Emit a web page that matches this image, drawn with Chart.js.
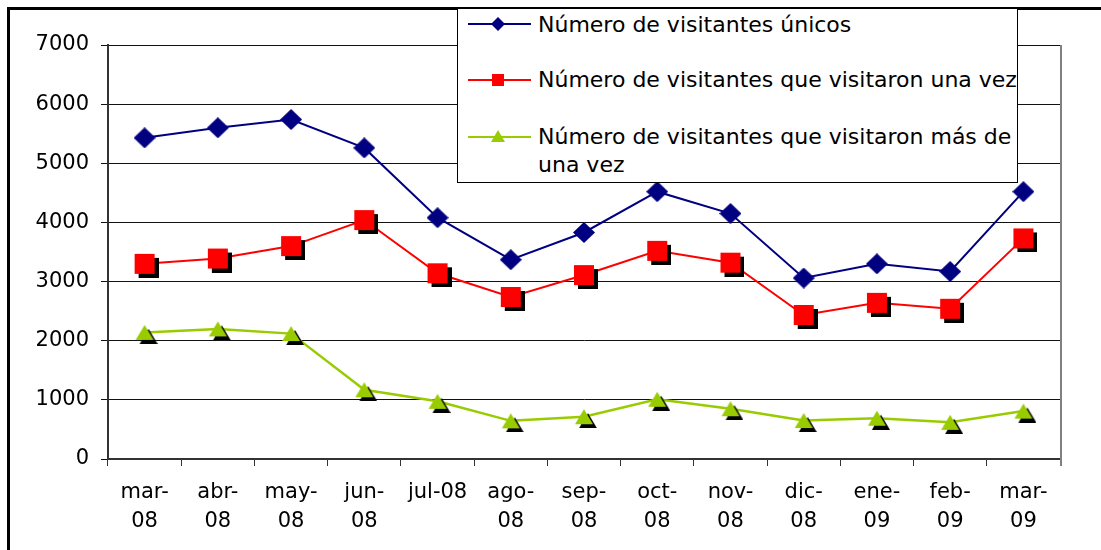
<!DOCTYPE html>
<html>
<head>
<meta charset="utf-8">
<script src="https://cdn.jsdelivr.net/npm/chart.js@4.4.1/dist/chart.umd.min.js"></script>
<style>
  html, body { margin: 0; padding: 0; background: #fff; }
  #wrap { position: relative; width: 1101px; height: 550px; overflow: hidden; }
  #legend { position: absolute; left: 457px; top: 8px; width: 559px; height: 173px; border: 1px solid #000; background: #fff;
            font-family: 'DejaVu Sans', sans-serif; font-size: 22px; color: #000; }
  .item { position: absolute; left: 0; width: 100%; }
  .item svg { position: absolute; left: 8px; }
  .item span { position: absolute; left: 80px; line-height: 28px; white-space: nowrap; }
</style>
</head>
<body>
<div id="wrap">
  <canvas id="chart" width="1101" height="550"></canvas>
  <div id="legend"></div>
</div>
<script>
// months on the x axis (two-line labels where the original wraps)
const months = [['mar-', '08'], ['abr-', '08'], ['may-', '08'], ['jun-', '08'], 'jul-08', ['ago-', '08'], ['sep-', '08'],
                ['oct-', '08'], ['nov-', '08'], ['dic-', '08'], ['ene-', '09'], ['feb-', '09'], ['mar-', '09']];

const visitantesUnicos = [5430, 5600, 5740, 5260, 4080, 3370, 3830, 4520, 4150, 3060, 3300, 3170, 4520];
const visitaronUnaVez = [3300, 3390, 3600, 4040, 3140, 2740, 3110, 3520, 3320, 2435, 2640, 2540, 3730];
const visitaronMasDeUna = [2140, 2200, 2120, 1170, 975, 645, 715, 1010, 850, 650, 690, 620, 810];

const seriesNames = ['Número de visitantes únicos', 'Número de visitantes que visitaron una vez',
                     ['Número de visitantes que visitaron más de', 'una vez']];

const yMin = 0, yMax = 7000, yStep = 1000;

const NAVY = '#000080', RED = '#ff0000', GREEN = '#99cc00';

// marker images, shape drawn in the middle and a black drop shadow down-right
function shape(kind, g, x, y, w, h) {
    g.beginPath();
    if (kind === 'square') {
        g.rect(x, y, w, h);
    } else if (kind === 'triangle') {
        g.moveTo(x + w / 2, y); g.lineTo(x + w, y + h); g.lineTo(x, y + h); g.closePath();
    } else {
        g.moveTo(x + w / 2, y); g.lineTo(x + w, y + h / 2); g.lineTo(x + w / 2, y + h); g.lineTo(x, y + h / 2); g.closePath();
    }
    g.fill();
}
function marker(kind, color, w, h, off) {
    const c = document.createElement('canvas');
    c.width = w + 2 * off; c.height = h + 2 * off;
    const g = c.getContext('2d');
    if (off) { g.fillStyle = '#000'; shape(kind, g, 2 * off, 2 * off, w, h); }
    g.fillStyle = color; shape(kind, g, off, off, w, h);
    return c;
}

const framePlugin = {
    id: 'frame',
    beforeDraw(chart) {
        const ctx = chart.ctx;
        ctx.save(); ctx.fillStyle = '#fff'; ctx.fillRect(0, 0, chart.width, chart.height); ctx.restore();
    },
    beforeDatasetsDraw(chart) {
        const { ctx, chartArea: a } = chart;
        ctx.save();
        ctx.strokeStyle = '#808080'; ctx.lineWidth = 2;
        ctx.beginPath(); ctx.moveTo(a.right + 1, a.top); ctx.lineTo(a.right + 1, a.bottom + 7); ctx.stroke();
        ctx.restore();
    },
    afterDraw(chart) {
        const ctx = chart.ctx;
        ctx.save();
        ctx.fillStyle = '#000';
        ctx.fillRect(7, 7, chart.width, 3);
        ctx.fillRect(7, 7, 3, chart.height);
        ctx.restore();
    }
};

const font = { family: "'DejaVu Sans', sans-serif", size: 21, lineHeight: 1.38 };

new Chart(document.getElementById('chart'), {
    type: 'line',
    data: {
        labels: months,
        datasets: [
            { label: seriesNames[0], data: visitantesUnicos, borderColor: NAVY, borderWidth: 2, tension: 0,
              pointStyle: marker('diamond', NAVY, 22, 21, 0) },
            { label: seriesNames[1], data: visitaronUnaVez, borderColor: RED, borderWidth: 2, tension: 0,
              pointStyle: marker('square', RED, 20, 20, 4) },
            { label: seriesNames[2].join(' '), data: visitaronMasDeUna, borderColor: GREEN, borderWidth: 2.5, tension: 0,
              pointStyle: marker('triangle', GREEN, 18, 15, 4) },
        ],
    },
    options: {
        responsive: false,
        animation: false,
        events: [],
        layout: { padding: { left: 0, right: 41, top: 45, bottom: 0 } },
        plugins: { legend: { display: false }, tooltip: { enabled: false } },
        scales: {
            x: {
                offset: true,
                afterFit: (s) => { s.height = 91; },
                grid: { display: true, drawOnChartArea: false, offset: true, tickLength: 7, color: '#333' },
                border: { display: true, color: '#333', width: 2 },
                ticks: { autoSkip: false, maxRotation: 0, padding: 12, color: '#000', font },
            },
            y: {
                min: yMin, max: yMax,
                afterFit: (s) => { s.width = 108; },
                grid: { color: '#111', lineWidth: 1, tickLength: 7 },
                border: { display: true, color: '#333', width: 2 },
                ticks: { stepSize: yStep, padding: 12, color: '#000', font, callback: (v) => String(v) },
            },
        },
    },
    plugins: [framePlugin],
});

// legend box overlapping the top of the plot, as in the original
const legendRows = [
    { kind: 'diamond', color: NAVY, y: 15, textTop: 2 },
    { kind: 'square', color: RED, y: 71, textTop: 57 },
    { kind: 'triangle', color: GREEN, y: 128, textTop: 114 },
];
const legend = document.getElementById('legend');
legendRows.forEach((r, i) => {
    const item = document.createElement('div');
    item.className = 'item';
    let m;
    if (r.kind === 'diamond') m = `<polygon points="32,3 39,10 32,17 25,10" fill="${r.color}"/>`;
    else if (r.kind === 'square') m = `<rect x="26" y="4" width="12" height="12" fill="${r.color}"/>`;
    else m = `<polygon points="32,3 39,15 25,15" fill="${r.color}"/>`;
    item.innerHTML = `<svg width="70" height="20" style="top:${r.y - 10}px"><line x1="2" y1="10" x2="65" y2="10" stroke="${r.color}" stroke-width="2"/>${m}</svg>`;
    const span = document.createElement('span');
    span.style.top = r.textTop + 'px';
    const name = seriesNames[i];
    span.innerHTML = Array.isArray(name) ? name.join('<br>') : name;
    item.appendChild(span);
    legend.appendChild(item);
});
</script>
</body>
</html>
